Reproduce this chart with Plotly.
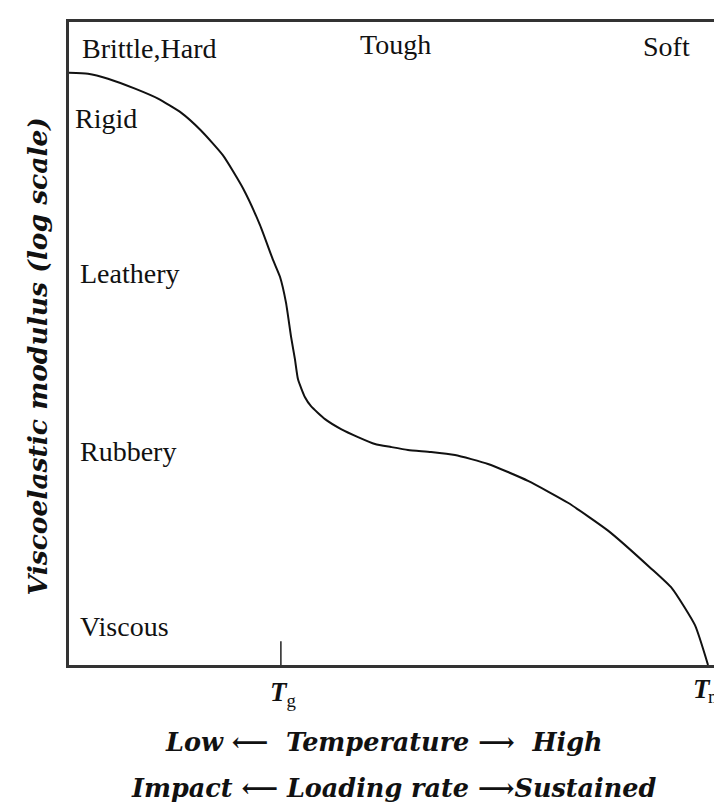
import plotly.graph_objects as go

# ---- data (temperature scale 0..100, log-modulus scale 0..100) ----
temperature = [0.00, 2.94, 6.04, 10.22, 13.78, 17.34, 20.43, 23.84, 26.93, 29.57,
               31.58, 32.66, 33.59, 34.37, 34.98, 35.45, 36.53, 37.46, 39.63, 42.11,
               44.74, 47.37, 49.85, 52.48, 56.04, 59.75, 64.86, 71.05, 77.24, 83.44,
               90.09, 93.34, 96.90, 98.92]
modulus = [92.10, 91.95, 91.18, 89.63, 88.08, 85.91, 83.13, 79.26, 74.15, 68.42,
           63.00, 60.37, 56.35, 51.08, 47.52, 44.43, 41.64, 40.25, 38.24, 36.69,
           35.45, 34.37, 33.90, 33.44, 33.13, 32.66, 31.27, 28.64, 25.23, 20.90,
           15.02, 11.92, 6.19, 0.00]
Tg = 32.8
Tm = 98.9
regions_top = ["Brittle,Hard", "Tough", "Soft"]
regions_left = ["Rigid", "Leathery", "Rubbery", "Viscous"]

W, H = 722, 802
L, R, T, B = 61, 707, 11, 657


def px(x):
    return (x - L) / (R - L)


def py(y):
    return (B - y) / (B - T)


fig = go.Figure()
fig.add_trace(go.Scatter(x=temperature, y=modulus, mode="lines",
                         line=dict(color="#111", width=2, shape="spline", smoothing=0.5),
                         hoverinfo="skip", showlegend=False))

fig.add_shape(type="line", xref="x", yref="y", x0=Tg, x1=Tg, y0=0, y1=3.7,
              line=dict(color="#222", width=1.5))

reg = dict(family="Liberation Serif, Times New Roman, serif", size=28, color="#111")
bi = dict(family="DejaVu Serif, serif", size=25.5, color="#111", weight="bold", style="italic")
tfont = dict(family="Liberation Serif, Times New Roman, serif", size=27, color="#111")
tbig = dict(tfont, weight="bold", style="italic")
tsub = dict(tfont, size=19)

ann = []
# top region labels
ann.append(dict(text=regions_top[0], x=px(72), y=py(37.5), xanchor="left"))
ann.append(dict(text=regions_top[1], x=px(387.5), y=py(33.5), xanchor="center"))
ann.append(dict(text=regions_top[2], x=px(658), y=py(35.5), xanchor="center"))
# left region labels
ann.append(dict(text=regions_left[0], x=px(65), y=py(107.5), xanchor="left"))
ann.append(dict(text=regions_left[1], x=px(70), y=py(264), xanchor="left"))
ann.append(dict(text=regions_left[2], x=px(70), y=py(443), xanchor="left"))
ann.append(dict(text=regions_left[3], x=px(70), y=py(618.5), xanchor="left"))
for a in ann:
    a.update(xref="paper", yref="paper", yanchor="middle", showarrow=False, font=reg)

ann2 = [
    dict(text="<b><i>T</i></b><sub>g</sub>", x=px(275), y=py(686), xanchor="center", font=tfont),
    dict(text="T", x=px(683), y=py(681), xanchor="left", font=tbig),
    dict(text="m", x=px(698), y=py(689), xanchor="left", font=tsub),
    dict(text="Low ⟵  Temperature ⟶  High", x=px(375.5), y=py(734), xanchor="center", font=bi),
    dict(text="Impact ⟵ Loading rate ⟶Sustained", x=px(385.5), y=py(781), xanchor="center", font=bi),
    dict(text="Viscoelastic modulus (log scale)", x=px(29), y=py(347), xanchor="center",
         textangle=-90, font=dict(bi, size=26.5)),
]
for a in ann2:
    a.update(xref="paper", yref="paper", yanchor="middle", showarrow=False)

fig.update_layout(
    width=W, height=H,
    margin=dict(l=L, r=W - R, t=T, b=H - B),
    paper_bgcolor="white", plot_bgcolor="white",
    annotations=ann + ann2,
    xaxis=dict(range=[0, 100], showline=True, mirror=True, linecolor="#333", linewidth=2.5,
               showgrid=False, zeroline=False, showticklabels=False, ticks=""),
    yaxis=dict(range=[0, 100], showline=True, mirror=True, linecolor="#333", linewidth=2.5,
               showgrid=False, zeroline=False, showticklabels=False, ticks=""),
)

fig.write_html("out.html")
